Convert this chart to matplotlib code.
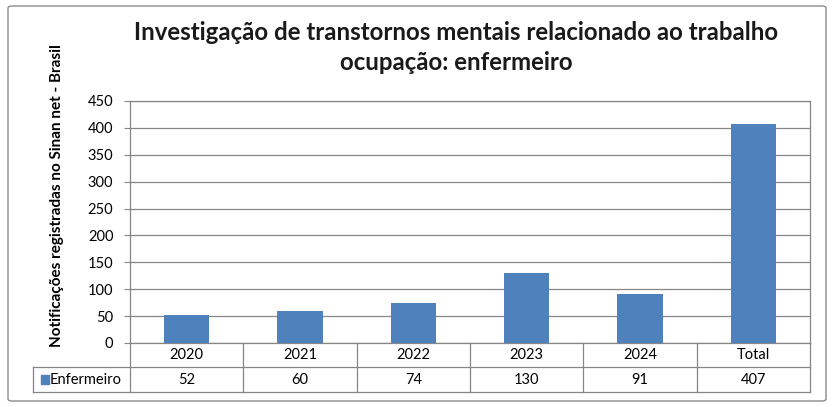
import matplotlib.pyplot as plt
from matplotlib.patches import FancyBboxPatch, Rectangle
from matplotlib.lines import Line2D
import numpy as np

plt.rcParams['font.family'] = ['Lato', 'DejaVu Sans']

# Data
categories = ['2020', '2021', '2022', '2023', '2024', 'Total']
values = [52, 60, 74, 130, 91, 407]
series_name = 'Enfermeiro'

bar_color = '#4F81BD'
grid_color = '#868686'

fig = plt.figure(figsize=(8.33, 4.07), dpi=100)
ax = fig.add_axes([130 / 833, 1 - 343 / 407, 680 / 833, 242 / 407])

x = np.arange(len(categories))
ax.bar(x, values, width=0.4, color=bar_color, zorder=3)

ax.set_xlim(-0.5, len(categories) - 0.5)
ax.set_ylim(0, 450)
ax.set_yticks(np.arange(0, 451, 50))
ax.tick_params(axis='y', labelsize=10.5, length=4, color=grid_color, pad=8)
ax.set_xticks([])
ax.grid(axis='y', color=grid_color, linewidth=0.9, zorder=0)
for s in ax.spines.values():
    s.set_color(grid_color)
    s.set_linewidth(0.9)

ax.set_ylabel('Notificações registradas no Sinan net - Brasil', fontsize=11,
              fontweight='bold', labelpad=10)
ax.yaxis.set_label_coords(-0.097, 0.61)

# Title
fig.text(0.548, 1 - 32 / 407, 'Investigação de transtornos mentais relacionado ao trabalho',
         ha='center', va='center', fontsize=17.3, fontweight='bold', color='#1a1a1a')
fig.text(0.548, 1 - 62 / 407, 'ocupação: enfermeiro',
         ha='center', va='center', fontsize=17.3, fontweight='bold', color='#1a1a1a')

# Data table below the plot
tr = ax.get_xaxis_transform()
row1 = -24 / 242
row2 = -49 / 242
lw = 0.9
left_cell = -0.5 - 97 / (680 / len(categories))
for xb in np.arange(-0.5, len(categories) + 0.5, 1):
    ax.add_line(Line2D([xb, xb], [0, row2], transform=tr, color=grid_color,
                       lw=lw, clip_on=False))
ax.add_line(Line2D([left_cell, len(categories) - 0.5], [row1, row1], transform=tr,
                   color=grid_color, lw=lw, clip_on=False))
ax.add_line(Line2D([left_cell, len(categories) - 0.5], [row2, row2], transform=tr,
                   color=grid_color, lw=lw, clip_on=False))
ax.add_line(Line2D([left_cell, left_cell], [row1, row2], transform=tr,
                   color=grid_color, lw=lw, clip_on=False))

for xi, cat, v in zip(x, categories, values):
    ax.text(xi, row1 / 2, cat, transform=tr, ha='center', va='center', fontsize=10.5)
    ax.text(xi, (row1 + row2) / 2, str(v), transform=tr, ha='center', va='center',
            fontsize=10.5)

# legend key in table
ax.add_patch(Rectangle((left_cell + 0.07, (row1 + row2) / 2 - 0.018), 0.07, 0.036,
                       transform=tr, color=bar_color, clip_on=False))
ax.text(left_cell + 0.15, (row1 + row2) / 2, series_name, transform=tr,
        ha='left', va='center', fontsize=10.5)

# Outer chart border
border = FancyBboxPatch((8 / 833, 6 / 407), 818 / 833, 395 / 407,
                        boxstyle='round,pad=0,rounding_size=0.005',
                        transform=fig.transFigure, fill=False,
                        edgecolor='#8c8c8c', linewidth=1.0)
fig.patches.append(border)

fig.savefig('out.png', dpi=100)
